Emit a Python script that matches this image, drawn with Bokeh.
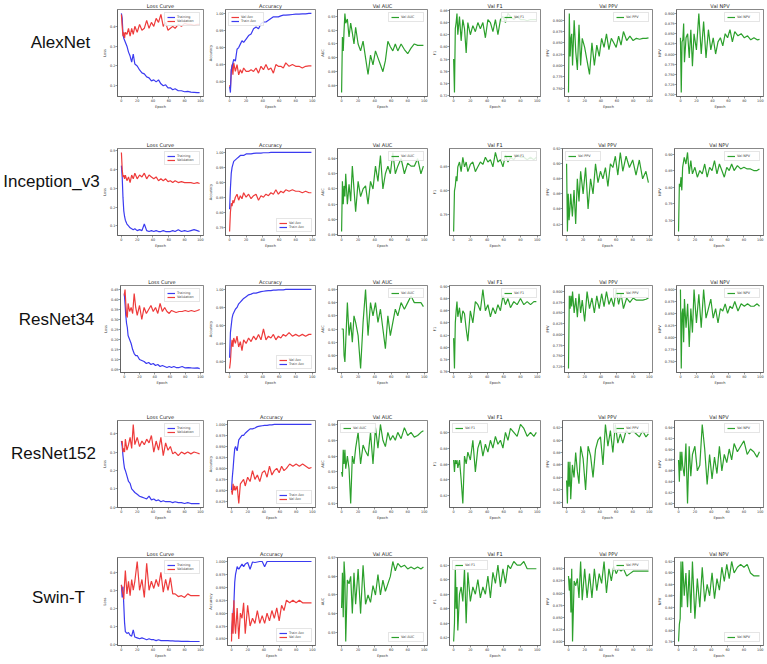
from bokeh.plotting import figure
from bokeh.layouts import row, column
from bokeh.models import Range1d, FixedTicker, PrintfTickFormatter
from bokeh.embed import file_html
from bokeh.resources import INLINE
from bokeh.core.properties import value

EPOCHS = [0, 1, 2, 3, 4, 5, 7, 9, 11, 13, 15, 17, 20, 23, 26, 29, 32, 35, 38, 41,
          44, 47, 50, 53, 56, 59, 62, 65, 68, 72, 76, 80, 84, 88, 92, 96, 99]
XTICKS = [0, 20, 40, 60, 80, 100]
MODELS = ["AlexNet", "Inception_v3", "ResNet34", "ResNet152", "Swin-T"]
TITLES = ["Loss Curve", "Accuracy", "Val AUC", "Val F1", "Val PPV", "Val NPV"]
YLABELS = ["Loss", "Accuracy", "AUC", "F1", "PPV", "NPV"]

# ---------------- AlexNet ----------------
alex_loss_train = [0.465, 0.44, 0.36, 0.34, 0.33, 0.32, 0.30, 0.27, 0.25, 0.22,
                   0.26, 0.21, 0.20, 0.18, 0.165, 0.16, 0.145, 0.14, 0.125, 0.13,
                   0.12, 0.13, 0.11, 0.10, 0.105, 0.09, 0.09, 0.08, 0.085, 0.075,
                   0.075, 0.07, 0.072, 0.068, 0.067, 0.066, 0.066]
alex_loss_val = [0.46, 0.40, 0.35, 0.37, 0.34, 0.37, 0.36, 0.39, 0.35, 0.39,
                 0.36, 0.40, 0.37, 0.41, 0.38, 0.39, 0.43, 0.39, 0.42, 0.40,
                 0.44, 0.42, 0.46, 0.40, 0.42, 0.38, 0.39, 0.40, 0.39, 0.41,
                 0.40, 0.415, 0.41, 0.41, 0.405, 0.41, 0.41]
alex_acc_train = [0.785, 0.768, 0.835, 0.845, 0.855, 0.865, 0.86, 0.895, 0.90, 0.91,
                  0.92, 0.915, 0.925, 0.935, 0.94, 0.955, 0.96, 0.955, 0.97, 0.975,
                  0.975, 0.98, 0.985, 0.99, 0.99, 0.99, 0.993, 0.995, 0.995, 0.996,
                  0.997, 0.998, 0.998, 0.999, 0.999, 1.0, 1.0]
alex_acc_val = [0.79, 0.78, 0.83, 0.85, 0.82, 0.855, 0.83, 0.85, 0.82, 0.835,
                0.825, 0.84, 0.83, 0.83, 0.835, 0.83, 0.84, 0.825, 0.845, 0.835,
                0.85, 0.835, 0.84, 0.825, 0.85, 0.845, 0.845, 0.84, 0.855, 0.845,
                0.85, 0.845, 0.845, 0.84, 0.845, 0.846, 0.846]
alex_auc = [0.875, 0.915, 0.905, 0.92, 0.932, 0.925, 0.928, 0.915, 0.925, 0.918,
            0.91, 0.922, 0.91, 0.905, 0.912, 0.90, 0.888, 0.902, 0.895, 0.905,
            0.90, 0.895, 0.89, 0.898, 0.912, 0.908, 0.905, 0.91, 0.905, 0.91,
            0.906, 0.903, 0.907, 0.91, 0.909, 0.909, 0.909]
alex_f1 = [0.78, 0.725, 0.83, 0.84, 0.855, 0.82, 0.85, 0.81, 0.845, 0.83,
           0.79, 0.84, 0.82, 0.835, 0.825, 0.84, 0.83, 0.84, 0.815, 0.845,
           0.84, 0.825, 0.845, 0.82, 0.845, 0.85, 0.84, 0.855, 0.85, 0.845,
           0.85, 0.845, 0.845, 0.843, 0.845, 0.845, 0.845]
alex_ppv = [0.74, 0.915, 0.82, 0.86, 0.87, 0.80, 0.90, 0.83, 0.79, 0.89,
            0.80, 0.86, 0.84, 0.81, 0.78, 0.85, 0.80, 0.845, 0.82, 0.86,
            0.84, 0.87, 0.835, 0.86, 0.85, 0.84, 0.865, 0.845, 0.875, 0.855,
            0.865, 0.855, 0.86, 0.858, 0.86, 0.86, 0.861]
alex_npv = [0.84, 0.705, 0.83, 0.835, 0.875, 0.78, 0.84, 0.85, 0.79, 0.86,
            0.77, 0.85, 0.81, 0.90, 0.80, 0.88, 0.79, 0.86, 0.81, 0.84,
            0.80, 0.83, 0.84, 0.82, 0.85, 0.84, 0.86, 0.83, 0.855, 0.845,
            0.85, 0.84, 0.845, 0.835, 0.84, 0.835, 0.836]

# ---------------- Inception_v3 ----------------
inc_loss_train = [0.42, 0.36, 0.25, 0.18, 0.15, 0.13, 0.11, 0.10, 0.09, 0.085,
                  0.08, 0.085, 0.075, 0.08, 0.075, 0.11, 0.075, 0.07, 0.075, 0.07,
                  0.075, 0.07, 0.07, 0.075, 0.07, 0.07, 0.07, 0.075, 0.07, 0.08,
                  0.07, 0.075, 0.07, 0.075, 0.08, 0.075, 0.07]
inc_loss_val = [0.49, 0.40, 0.36, 0.37, 0.35, 0.37, 0.34, 0.36, 0.33, 0.37,
                0.35, 0.38, 0.35, 0.37, 0.36, 0.38, 0.35, 0.37, 0.36, 0.35,
                0.36, 0.34, 0.35, 0.34, 0.35, 0.335, 0.34, 0.33, 0.34, 0.33,
                0.335, 0.33, 0.33, 0.33, 0.325, 0.33, 0.325]
inc_acc_train = [0.81, 0.88, 0.93, 0.95, 0.96, 0.97, 0.975, 0.98, 0.985, 0.99,
                 0.99, 0.99, 0.995, 0.995, 0.995, 0.997, 0.998, 0.998, 0.998, 0.999,
                 0.999, 0.999, 1.0, 1.0, 1.0, 1.0, 1.0, 1.0, 1.0, 1.0,
                 1.0, 1.0, 1.0, 1.0, 1.0, 1.0, 1.0]
inc_acc_val = [0.735, 0.80, 0.83, 0.82, 0.84, 0.83, 0.85, 0.86, 0.84, 0.855,
               0.845, 0.865, 0.85, 0.86, 0.845, 0.855, 0.86, 0.84, 0.855, 0.85,
               0.86, 0.855, 0.865, 0.86, 0.875, 0.86, 0.87, 0.865, 0.875, 0.87,
               0.875, 0.87, 0.87, 0.865, 0.87, 0.865, 0.865]
inc_auc = [0.892, 0.925, 0.91, 0.922, 0.915, 0.93, 0.91, 0.923, 0.912, 0.935,
           0.92, 0.905, 0.925, 0.915, 0.92, 0.922, 0.91, 0.925, 0.92, 0.935,
           0.925, 0.942, 0.92, 0.93, 0.935, 0.93, 0.944, 0.93, 0.935, 0.94,
           0.93, 0.937, 0.935, 0.935, 0.94, 0.93, 0.935]
inc_f1 = [0.715, 0.80, 0.81, 0.83, 0.82, 0.85, 0.86, 0.84, 0.87, 0.85,
          0.86, 0.84, 0.855, 0.86, 0.84, 0.85, 0.86, 0.855, 0.87, 0.86,
          0.865, 0.85, 0.88, 0.86, 0.865, 0.85, 0.875, 0.86, 0.87, 0.865,
          0.875, 0.87, 0.87, 0.865, 0.87, 0.865, 0.87]
inc_ppv = [0.90, 0.81, 0.86, 0.825, 0.84, 0.86, 0.83, 0.865, 0.82, 0.88,
           0.85, 0.89, 0.86, 0.895, 0.84, 0.88, 0.86, 0.90, 0.875, 0.89,
           0.88, 0.895, 0.87, 0.90, 0.895, 0.91, 0.885, 0.915, 0.89, 0.91,
           0.895, 0.905, 0.885, 0.905, 0.88, 0.89, 0.875]
inc_npv = [0.665, 0.81, 0.80, 0.83, 0.79, 0.86, 0.89, 0.87, 0.905, 0.84,
           0.88, 0.84, 0.86, 0.83, 0.85, 0.84, 0.87, 0.83, 0.86, 0.85,
           0.88, 0.84, 0.87, 0.85, 0.83, 0.86, 0.85, 0.87, 0.85, 0.865,
           0.855, 0.86, 0.855, 0.855, 0.85, 0.85, 0.855]

# ---------------- ResNet34 ----------------
r34_loss_train = [0.43, 0.38, 0.32, 0.28, 0.26, 0.22, 0.20, 0.18, 0.15, 0.13,
                  0.12, 0.12, 0.10, 0.095, 0.09, 0.08, 0.085, 0.075, 0.08, 0.07,
                  0.075, 0.065, 0.07, 0.065, 0.06, 0.065, 0.06, 0.065, 0.06, 0.06,
                  0.065, 0.058, 0.06, 0.058, 0.057, 0.058, 0.055]
r34_loss_val = [0.42, 0.45, 0.38, 0.32, 0.31, 0.38, 0.34, 0.36, 0.33, 0.43,
                0.36, 0.32, 0.37, 0.30, 0.36, 0.33, 0.35, 0.37, 0.34, 0.36,
                0.33, 0.38, 0.34, 0.36, 0.34, 0.33, 0.345, 0.34, 0.335, 0.34,
                0.34, 0.345, 0.34, 0.345, 0.34, 0.345, 0.35]
r34_acc_train = [0.81, 0.88, 0.90, 0.92, 0.93, 0.935, 0.945, 0.95, 0.96, 0.965,
                 0.97, 0.975, 0.98, 0.985, 0.987, 0.99, 0.99, 0.992, 0.994, 0.995,
                 0.996, 0.997, 0.997, 0.998, 0.998, 0.999, 0.999, 0.999, 1.0, 1.0,
                 1.0, 1.0, 1.0, 1.0, 1.0, 1.0, 1.0]
r34_acc_val = [0.78, 0.80, 0.84, 0.86, 0.84, 0.865, 0.85, 0.87, 0.84, 0.855,
               0.83, 0.86, 0.85, 0.865, 0.855, 0.87, 0.86, 0.875, 0.86, 0.89,
               0.86, 0.87, 0.865, 0.875, 0.86, 0.87, 0.865, 0.875, 0.87, 0.88,
               0.87, 0.875, 0.87, 0.875, 0.87, 0.875, 0.875]
r34_auc = [0.92, 0.92, 0.92, 0.90, 0.895, 0.91, 0.94, 0.915, 0.925, 0.91,
           0.93, 0.925, 0.915, 0.89, 0.925, 0.95, 0.915, 0.94, 0.93, 0.94,
           0.925, 0.935, 0.92, 0.905, 0.93, 0.915, 0.925, 0.935, 0.93, 0.94,
           0.935, 0.94, 0.945, 0.94, 0.94, 0.94, 0.937]
r34_f1 = [0.815, 0.765, 0.84, 0.86, 0.875, 0.85, 0.865, 0.84, 0.86, 0.855,
          0.83, 0.81, 0.86, 0.84, 0.875, 0.87, 0.86, 0.895, 0.86, 0.87,
          0.85, 0.865, 0.855, 0.87, 0.86, 0.885, 0.87, 0.88, 0.865, 0.875,
          0.87, 0.88, 0.87, 0.875, 0.87, 0.875, 0.875]
r34_ppv = [0.72, 0.89, 0.86, 0.89, 0.865, 0.90, 0.85, 0.885, 0.84, 0.895,
           0.85, 0.88, 0.83, 0.90, 0.86, 0.885, 0.85, 0.89, 0.86, 0.895,
           0.865, 0.90, 0.87, 0.885, 0.865, 0.905, 0.87, 0.895, 0.86, 0.885,
           0.875, 0.885, 0.88, 0.88, 0.88, 0.882, 0.885]
r34_npv = [0.90, 0.735, 0.85, 0.86, 0.79, 0.88, 0.82, 0.87, 0.78, 0.86,
           0.81, 0.90, 0.83, 0.89, 0.82, 0.90, 0.84, 0.86, 0.88, 0.84,
           0.86, 0.83, 0.86, 0.855, 0.87, 0.85, 0.865, 0.86, 0.875, 0.855,
           0.87, 0.865, 0.87, 0.865, 0.865, 0.87, 0.865]

# ---------------- ResNet152 ----------------
r152_loss_train = [0.36, 0.33, 0.28, 0.24, 0.21, 0.20, 0.17, 0.14, 0.13, 0.10,
                   0.09, 0.08, 0.07, 0.06, 0.055, 0.05, 0.045, 0.06, 0.04, 0.045,
                   0.035, 0.04, 0.03, 0.035, 0.03, 0.03, 0.03, 0.025, 0.03, 0.025,
                   0.025, 0.02, 0.025, 0.02, 0.02, 0.02, 0.02]
r152_loss_val = [0.35, 0.36, 0.30, 0.32, 0.30, 0.37, 0.31, 0.34, 0.38, 0.32,
                 0.45, 0.34, 0.38, 0.33, 0.36, 0.34, 0.37, 0.35, 0.39, 0.30,
                 0.36, 0.31, 0.38, 0.28, 0.35, 0.31, 0.33, 0.29, 0.30, 0.28,
                 0.30, 0.29, 0.30, 0.29, 0.30, 0.295, 0.29]
r152_acc_train = [0.85, 0.88, 0.90, 0.925, 0.945, 0.95, 0.94, 0.965, 0.97, 0.975,
                  0.975, 0.98, 0.985, 0.99, 0.99, 0.992, 0.995, 0.996, 0.997, 0.998,
                  0.998, 0.999, 0.999, 1.0, 1.0, 1.0, 1.0, 1.0, 1.0, 1.0,
                  1.0, 1.0, 1.0, 1.0, 1.0, 1.0, 1.0]
r152_acc_val = [0.85, 0.84, 0.865, 0.85, 0.86, 0.85, 0.86, 0.82, 0.865, 0.87,
                0.875, 0.86, 0.88, 0.87, 0.895, 0.875, 0.885, 0.87, 0.89, 0.895,
                0.88, 0.905, 0.885, 0.895, 0.90, 0.89, 0.905, 0.895, 0.90, 0.91,
                0.905, 0.91, 0.905, 0.91, 0.905, 0.90, 0.902]
r152_auc = [0.93, 0.927, 0.944, 0.935, 0.944, 0.932, 0.94, 0.932, 0.91, 0.94,
            0.935, 0.945, 0.955, 0.935, 0.947, 0.943, 0.94, 0.955, 0.935, 0.958,
            0.945, 0.96, 0.95, 0.946, 0.955, 0.95, 0.953, 0.95, 0.955, 0.951,
            0.958, 0.953, 0.955, 0.952, 0.953, 0.955, 0.956]
r152_f1 = [0.865, 0.85, 0.865, 0.86, 0.865, 0.855, 0.865, 0.84, 0.81, 0.87,
           0.86, 0.875, 0.865, 0.89, 0.85, 0.88, 0.89, 0.87, 0.885, 0.875,
           0.89, 0.88, 0.895, 0.885, 0.89, 0.88, 0.90, 0.89, 0.905, 0.90,
           0.895, 0.91, 0.905, 0.895, 0.90, 0.895, 0.90]
r152_ppv = [0.835, 0.798, 0.865, 0.825, 0.865, 0.805, 0.86, 0.84, 0.88, 0.85,
            0.83, 0.89, 0.87, 0.82, 0.89, 0.875, 0.84, 0.885, 0.90, 0.905,
            0.86, 0.925, 0.89, 0.915, 0.88, 0.925, 0.895, 0.91, 0.895, 0.915,
            0.91, 0.915, 0.91, 0.905, 0.915, 0.905, 0.91]
r152_npv = [0.88, 0.84, 0.895, 0.86, 0.895, 0.87, 0.85, 0.91, 0.80, 0.905,
            0.85, 0.89, 0.905, 0.86, 0.87, 0.945, 0.90, 0.835, 0.89, 0.845,
            0.885, 0.855, 0.905, 0.86, 0.89, 0.875, 0.90, 0.88, 0.91, 0.895,
            0.905, 0.915, 0.89, 0.90, 0.895, 0.885, 0.895]

# ---------------- Swin-T ----------------
swin_loss_train = [0.33, 0.26, 0.32, 0.22, 0.12, 0.07, 0.06, 0.065, 0.05, 0.045,
                   0.08, 0.04, 0.035, 0.03, 0.035, 0.03, 0.025, 0.03, 0.025, 0.025,
                   0.02, 0.025, 0.02, 0.02, 0.02, 0.02, 0.018, 0.018, 0.017, 0.017,
                   0.016, 0.016, 0.016, 0.015, 0.015, 0.015, 0.015]
swin_loss_val = [0.33, 0.30, 0.28, 0.25, 0.34, 0.41, 0.28, 0.35, 0.27, 0.36,
                 0.30, 0.35, 0.46, 0.30, 0.36, 0.26, 0.45, 0.30, 0.35, 0.31,
                 0.36, 0.32, 0.40, 0.29, 0.36, 0.30, 0.37, 0.28, 0.28, 0.265,
                 0.27, 0.26, 0.28, 0.27, 0.27, 0.27, 0.27]
swin_acc_train = [0.86, 0.88, 0.90, 0.92, 0.96, 0.975, 0.99, 0.985, 0.99, 0.995,
                  0.99, 0.995, 0.998, 0.985, 0.999, 0.998, 0.999, 1.0, 1.0, 0.99,
                  1.0, 1.0, 1.0, 1.0, 1.0, 1.0, 1.0, 1.0, 1.0, 1.0,
                  1.0, 1.0, 1.0, 1.0, 1.0, 1.0, 1.0]
swin_acc_val = [0.845, 0.90, 0.86, 0.925, 0.88, 0.86, 0.91, 0.85, 0.90, 0.89,
                0.92, 0.86, 0.915, 0.875, 0.89, 0.88, 0.905, 0.88, 0.895, 0.88,
                0.90, 0.885, 0.905, 0.89, 0.91, 0.885, 0.915, 0.905, 0.925, 0.92,
                0.925, 0.92, 0.925, 0.92, 0.92, 0.92, 0.92]
swin_auc = [0.943, 0.962, 0.938, 0.968, 0.96, 0.925, 0.958, 0.956, 0.96, 0.94,
            0.962, 0.945, 0.964, 0.94, 0.966, 0.945, 0.95, 0.946, 0.955, 0.95,
            0.961, 0.95, 0.958, 0.952, 0.956, 0.96, 0.968, 0.963, 0.967, 0.965,
            0.966, 0.964, 0.965, 0.964, 0.965, 0.964, 0.965]
swin_f1 = [0.815, 0.84, 0.92, 0.86, 0.89, 0.83, 0.88, 0.89, 0.87, 0.915,
           0.84, 0.91, 0.87, 0.89, 0.88, 0.90, 0.875, 0.89, 0.88, 0.905,
           0.875, 0.91, 0.895, 0.92, 0.89, 0.915, 0.895, 0.92, 0.915, 0.925,
           0.92, 0.92, 0.925, 0.915, 0.915, 0.915, 0.915]
swin_ppv = [0.935, 0.905, 0.93, 0.86, 0.95, 0.80, 0.925, 0.915, 0.93, 0.89,
            0.965, 0.885, 0.95, 0.89, 0.94, 0.89, 0.95, 0.905, 0.94, 0.92,
            0.965, 0.90, 0.95, 0.925, 0.955, 0.94, 0.95, 0.945, 0.95, 0.935,
            0.94, 0.945, 0.945, 0.945, 0.945, 0.945, 0.945]
swin_npv = [0.78, 0.81, 0.82, 0.92, 0.84, 0.92, 0.86, 0.90, 0.84, 0.905,
            0.83, 0.92, 0.82, 0.89, 0.84, 0.91, 0.85, 0.88, 0.86, 0.90,
            0.855, 0.89, 0.87, 0.91, 0.885, 0.915, 0.89, 0.92, 0.90, 0.91,
            0.915, 0.91, 0.915, 0.90, 0.895, 0.895, 0.895]

# y tick values per row / panel
YTICKS = [
    [[0.1, 0.2, 0.3, 0.4], [0.80, 0.85, 0.90, 0.95, 1.00], [0.88, 0.89, 0.90, 0.91, 0.92, 0.93],
     [0.72, 0.74, 0.76, 0.78, 0.80, 0.82, 0.84, 0.86],
     [0.750, 0.775, 0.800, 0.825, 0.850, 0.875, 0.900],
     [0.700, 0.725, 0.750, 0.775, 0.800, 0.825, 0.850, 0.875, 0.900]],
    [[0.1, 0.2, 0.3, 0.4, 0.5], [0.75, 0.80, 0.85, 0.90, 0.95, 1.00], [0.89, 0.90, 0.91, 0.92, 0.93, 0.94],
     [0.70, 0.75, 0.80, 0.85], [0.82, 0.84, 0.86, 0.88, 0.90, 0.92], [0.70, 0.75, 0.80, 0.85, 0.90]],
    [[0.05, 0.10, 0.15, 0.20, 0.25, 0.30, 0.35, 0.40, 0.45], [0.80, 0.85, 0.90, 0.95, 1.00],
     [0.89, 0.90, 0.91, 0.92, 0.93, 0.94, 0.95], [0.76, 0.78, 0.80, 0.82, 0.84, 0.86, 0.88, 0.90],
     [0.725, 0.750, 0.775, 0.800, 0.825, 0.850, 0.875, 0.900],
     [0.750, 0.775, 0.800, 0.825, 0.850, 0.875, 0.900]],
    [[0.0, 0.1, 0.2, 0.3, 0.4], [0.825, 0.850, 0.875, 0.900, 0.925, 0.950, 0.975, 1.000],
     [0.91, 0.92, 0.93, 0.94, 0.95, 0.96], [0.82, 0.84, 0.86, 0.88, 0.90],
     [0.80, 0.82, 0.84, 0.86, 0.88, 0.90, 0.92], [0.80, 0.82, 0.84, 0.86, 0.88, 0.90, 0.92, 0.94]],
    [[0.0, 0.1, 0.2, 0.3, 0.4], [0.850, 0.875, 0.900, 0.925, 0.950, 0.975, 1.000],
     [0.93, 0.94, 0.95, 0.96, 0.97], [0.82, 0.84, 0.86, 0.88, 0.90, 0.92],
     [0.800, 0.825, 0.850, 0.875, 0.900, 0.925, 0.950, 0.975],
     [0.78, 0.80, 0.82, 0.84, 0.86, 0.88, 0.90, 0.92]],
]
YFMT = [
    ["%.1f", "%.2f", "%.2f", "%.2f", "%.3f", "%.3f"],
    ["%.1f", "%.2f", "%.2f", "%.2f", "%.2f", "%.2f"],
    ["%.2f", "%.2f", "%.2f", "%.2f", "%.3f", "%.3f"],
    ["%.1f", "%.3f", "%.2f", "%.2f", "%.2f", "%.2f"],
    ["%.1f", "%.3f", "%.2f", "%.2f", "%.3f", "%.2f"],
]
LEGEND_LOC = [
    ["top_right", "top_left", "top_right", "top_right", "top_right", "top_right"],
    ["top_right", "bottom_right", "top_right", "top_right", "top_left", "top_right"],
    ["top_right", "bottom_right", "top_right", "top_right", "top_right", "top_right"],
    ["top_right", "bottom_right", "top_left", "top_left", "top_right", "top_right"],
    ["top_right", "bottom_right", "bottom_right", "top_left", "top_right", "bottom_right"],
]

BLUE = "#3b3bf0"
RED = "#ee3b3b"
GREEN = "#2ca02c"

DATA = [
    (alex_loss_train, alex_loss_val, alex_acc_train, alex_acc_val, alex_auc, alex_f1, alex_ppv, alex_npv, True),
    (inc_loss_train, inc_loss_val, inc_acc_train, inc_acc_val, inc_auc, inc_f1, inc_ppv, inc_npv, True),
    (r34_loss_train, r34_loss_val, r34_acc_train, r34_acc_val, r34_auc, r34_f1, r34_ppv, r34_npv, True),
    (r152_loss_train, r152_loss_val, r152_acc_train, r152_acc_val, r152_auc, r152_f1, r152_ppv, r152_npv, False),
    (swin_loss_train, swin_loss_val, swin_acc_train, swin_acc_val, swin_auc, swin_f1, swin_ppv, swin_npv, False),
]

# layout geometry
LABEL_W = 100
FIG_W = [105, 112, 112, 113, 112, 113]
BORDER_L = [12, 18, 19, 19, 18, 19]
BORDER_R = [2, 2, 2, 2, 2, 4]
ROW_H = [139, 137, 135, 137, 116]
FRAME_H = [88, 88, 88, 88, 89]
TOP_B = 8
LABEL_CX = [60, 51, 56, 53, 58]
FONT = "DejaVu Sans"
X0, X1 = -4.95, 103.95


def make_panel(ri, ci, title, ylabel, series):
    ys = [v for s in series for v in s[0]]
    lo, hi = min(ys), max(ys)
    pad = (hi - lo) * 0.05
    h = ROW_H[ri]
    p = figure(width=FIG_W[ci], height=h, output_backend="svg", toolbar_location=None,
               x_range=Range1d(X0, X1), y_range=Range1d(lo - pad, hi + pad),
               min_border_left=BORDER_L[ci], min_border_right=BORDER_R[ci],
               min_border_top=TOP_B, min_border_bottom=h - TOP_B - FRAME_H[ri],
               title=title)
    p.title.text_font_size = "5px"
    p.title.text_font = FONT
    p.title.text_font_style = "normal"
    p.title.align = "center"
    p.title.standoff = 1
    p.title.offset = 0
    p.title.text_color = "#222222"
    p.xgrid.grid_line_color = None
    p.ygrid.grid_line_color = None
    p.outline_line_color = "#555555"
    p.outline_line_width = 0.7
    p.xaxis.ticker = FixedTicker(ticks=XTICKS)
    p.yaxis.ticker = FixedTicker(ticks=YTICKS[ri][ci])
    p.yaxis.formatter = PrintfTickFormatter(format=YFMT[ri][ci])
    p.xaxis.axis_label = "Epoch"
    p.yaxis.axis_label = ylabel
    for ax in (p.xaxis, p.yaxis):
        ax.major_label_text_font_size = "3.4px"
        ax.major_label_text_font = FONT
        ax.major_label_text_color = "#333333"
        ax.axis_label_text_font_size = "3.6px"
        ax.axis_label_text_font = FONT
        ax.axis_label_text_font_style = "normal"
        ax.axis_label_text_color = "#333333"
        ax.axis_label_standoff = 0
        ax.major_label_standoff = 0
        ax.major_tick_out = 2
        ax.major_tick_in = 0
        ax.minor_tick_out = 0
        ax.minor_tick_in = 0
        ax.axis_line_color = "#555555"
        ax.axis_line_width = 0.7
        ax.major_tick_line_color = "#555555"
        ax.major_tick_line_width = 0.6
    for data, color, label in series:
        p.line(EPOCHS, data, line_color=color, line_width=1.2, legend_label=label)
    lg = p.legend[0]
    lg.location = LEGEND_LOC[ri][ci]
    lg.label_text_font_size = "3.4px"
    lg.label_text_font = FONT
    lg.label_height = 4
    lg.glyph_height = 4
    lg.glyph_width = 8
    lg.label_standoff = 2
    lg.padding = 2
    lg.spacing = 0
    lg.margin = 3
    lg.border_line_color = "#cccccc"
    lg.border_line_width = 0.5
    lg.background_fill_alpha = 0.85
    return p


rows = []
for ri, name in enumerate(MODELS):
    lt, lv, at, av, auc, f1, ppv, npv, val_first = DATA[ri]
    h = ROW_H[ri]
    lf = figure(width=LABEL_W, height=h, output_backend="svg", toolbar_location=None,
                x_range=Range1d(0, LABEL_W), y_range=Range1d(0, h), min_border=0,
                x_axis_location=None, y_axis_location=None)
    lf.outline_line_color = None
    lf.xgrid.grid_line_color = None
    lf.ygrid.grid_line_color = None
    lf.text(x=[LABEL_CX[ri]], y=[h - TOP_B - FRAME_H[ri] / 2], text=[name],
            text_align="center", text_baseline="middle",
            text_font=value("Liberation Sans"), text_font_size=value("17px"),
            text_color="#111111")

    acc_series = ([(av, RED, "Val Acc"), (at, BLUE, "Train Acc")] if val_first
                  else [(at, BLUE, "Train Acc"), (av, RED, "Val Acc")])
    panel_series = [
        [(lt, BLUE, "Training"), (lv, RED, "Validation")],
        acc_series,
        [(auc, GREEN, "Val AUC")],
        [(f1, GREEN, "Val F1")],
        [(ppv, GREEN, "Val PPV")],
        [(npv, GREEN, "Val NPV")],
    ]
    figs = [make_panel(ri, ci, TITLES[ci], YLABELS[ci], panel_series[ci]) for ci in range(6)]
    rows.append(row(lf, *figs, spacing=0))

layout = column(*rows, spacing=0)
open("out.html", "w").write(file_html(layout, INLINE))
